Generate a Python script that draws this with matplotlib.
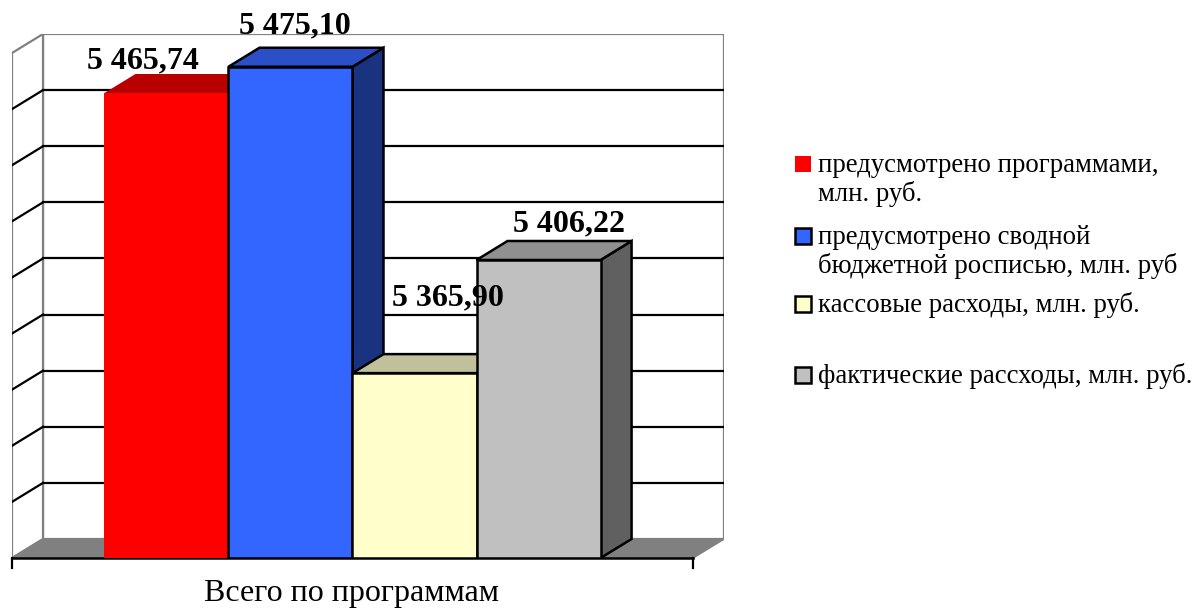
import matplotlib
matplotlib.use("Agg")
import matplotlib.pyplot as plt
from matplotlib.patches import Polygon, Rectangle

plt.rcParams['font.family'] = ['Liberation Serif', 'DejaVu Serif']

# ---- data ----
category = "Всего по программам"
series_names = [
    "предусмотрено программами,\nмлн. руб.",
    "предусмотрено сводной\nбюджетной росписью, млн. руб",
    "кассовые расходы, млн. руб.",
    "фактические рассходы, млн. руб.",
]
values = [5465.74, 5475.10, 5365.90, 5406.22]
value_labels = ["5 465,74", "5 475,10", "5 365,90", "5 406,22"]
y_min, y_max, y_step = 5300, 5480, 20

# ---- style ----
face_colors = ["#FF0000", "#3366FF", "#FFFFCC", "#C0C0C0"]
top_colors = ["#B80000", "#2A4FC6", "#C0C09A", "#909090"]
side_colors = ["#8A0000", "#1A3380", "#808066", "#606060"]
edge_colors = ["none", "black", "black", "black"]
# label offsets in pixels relative to the front-top centre of each bar
label_offsets = [(-23, 25), (4, 33), (33, 68), (30, 29)]

W, H = 1194, 610
fig = plt.figure(figsize=(W / 100, H / 100), dpi=100)
fig.patch.set_facecolor("white")

# plot area in pixels: front plane x 12..693, depth 31 px right, 19 px up
px_left, px_right_ax, px_bottom, px_top = 12, 724, 558, 34
ax = fig.add_axes([px_left / W, 1 - px_bottom / H,
                   (px_right_ax - px_left) / W, (px_bottom - px_top) / H])
ax.set_axis_off()

bar_w = 1.0
n = len(values)
xL, xR = -2.745, 2.745
DX = 0.25
px_per_unit = (539 - 34) / (y_max - y_min)
DY = 19 / px_per_unit
ax.set_xlim(xL, xR + DX)
ax.set_ylim(y_min, y_max + DY)

grey = "#808080"
# back wall
ax.add_patch(Rectangle((xL + DX, y_min + DY), xR - xL, y_max - y_min,
                       facecolor="white", edgecolor=grey, lw=1.6, zorder=1))
# left wall
ax.add_patch(Polygon([(xL, y_min), (xL + DX, y_min + DY), (xL + DX, y_max + DY), (xL, y_max)],
                     closed=True, facecolor="white", edgecolor=grey, lw=1.6, zorder=1))
# floor
ax.add_patch(Polygon([(xL, y_min), (xR, y_min), (xR + DX, y_min + DY), (xL + DX, y_min + DY)],
                     closed=True, facecolor=grey, edgecolor=grey, lw=1.2, zorder=1))
# gridlines
for g in range(y_min + y_step, y_max, y_step):
    ax.plot([xL + DX, xR + DX], [g + DY, g + DY], color="black", lw=1.6, zorder=2)
    ax.plot([xL, xL + DX], [g, g + DY], color="black", lw=1.6, zorder=2)
# x axis
ax.plot([xL, xR], [y_min, y_min], color="black", lw=1.8, zorder=3, clip_on=False)
tick_len = 10 / px_per_unit
for xt in (xL, xR):
    ax.plot([xt, xt], [y_min, y_min - tick_len], color="black", lw=1.6, zorder=3, clip_on=False)

# bars
x0 = -n * bar_w / 2
for i, v in enumerate(values):
    a = x0 + i * bar_w
    b = a + bar_w
    lw = 0 if edge_colors[i] == "none" else 1.8
    ec = edge_colors[i]
    z = 4 + i
    ax.add_patch(Polygon([(b, y_min), (b + DX, y_min + DY), (b + DX, v + DY), (b, v)],
                         closed=True, facecolor=side_colors[i], edgecolor=ec, lw=lw,
                         joinstyle="miter", zorder=z))
    ax.add_patch(Polygon([(a, v), (b, v), (b + DX, v + DY), (a + DX, v + DY)],
                         closed=True, facecolor=top_colors[i], edgecolor=ec, lw=lw,
                         joinstyle="miter", zorder=z))
    ax.add_patch(Rectangle((a, y_min), bar_w, v - y_min, facecolor=face_colors[i],
                           edgecolor=ec, lw=lw, joinstyle="miter", zorder=z))
    ax.annotate(value_labels[i], xy=(a + bar_w / 2, v), xytext=label_offsets[i],
                textcoords="offset pixels", ha="center", va="baseline",
                fontsize=23, fontweight="bold", zorder=20, annotation_clip=False)

# category label
fig.text(352 / W, 1 - 601 / H, category, ha="center", va="baseline", fontsize=23)

# legend (manual)
leg_marker_x = 795
leg_text_x = 818
first_baselines = [172, 244, 312, 383]
line_step = 29
msize = 16
for i, name in enumerate(series_names):
    bl = first_baselines[i]
    for k, line in enumerate(name.split("\n")):
        fig.text(leg_text_x / W, 1 - (bl + k * line_step) / H, line,
                 ha="left", va="baseline", fontsize=19.3)
    cy = bl - 8
    lw = 0 if edge_colors[i] == "none" else 1.8
    fig.add_artist(Rectangle((leg_marker_x / W, 1 - (cy + msize / 2) / H),
                             msize / W, msize / H, transform=fig.transFigure,
                             facecolor=face_colors[i], edgecolor=edge_colors[i], lw=lw))

fig.savefig("out.png", dpi=100, facecolor="white")
